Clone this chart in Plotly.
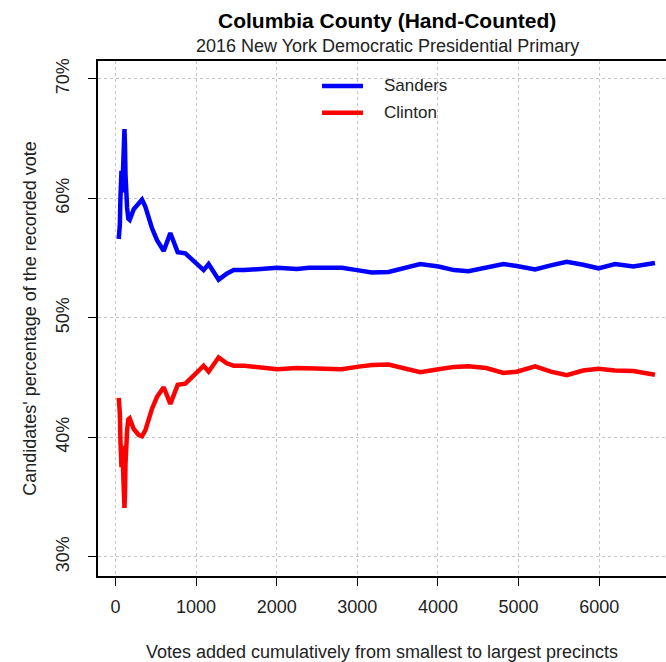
import plotly.graph_objects as go

votes = [41, 55, 62, 75, 85, 100, 112, 118, 125, 135, 145, 160, 177, 227, 290, 330, 372,
         454, 516, 599, 681, 772, 867, 960, 1094, 1156, 1280, 1380, 1466, 1600, 1756,
         2004, 2251, 2400, 2600, 2809, 2995, 3181, 3387, 3600, 3780, 4006, 4200, 4378,
         4600, 4812, 4977, 5204, 5400, 5597, 5800, 5989, 6196, 6423, 6691]

sanders = [56.6, 57.8, 60.0, 62.3, 60.5, 63.5, 65.8, 64.6, 62.0, 59.8, 59.2, 58.3, 58.2,
           59.1, 59.6, 59.9, 59.3, 57.5, 56.5, 55.6, 57.1, 55.5, 55.4, 54.8, 54.0, 54.5,
           53.2, 53.7, 54.0, 54.0, 54.05, 54.2, 54.1, 54.2, 54.2, 54.2, 54.0, 53.8, 53.85,
           54.2, 54.5, 54.3, 54.0, 53.9, 54.2, 54.5, 54.35, 54.05, 54.4, 54.7, 54.45,
           54.15, 54.5, 54.3, 54.6]

clinton = [43.3, 42.0, 39.8, 37.5, 39.3, 36.3, 34.1, 35.2, 37.8, 40.0, 40.6, 41.5, 41.6,
           40.7, 40.2, 40.1, 40.6, 42.4, 43.4, 44.2, 42.8, 44.4, 44.5, 45.1, 46.0, 45.5,
           46.7, 46.2, 46.0, 46.0, 45.9, 45.7, 45.8, 45.75, 45.7, 45.7, 45.9, 46.05, 46.1,
           45.75, 45.45, 45.7, 45.9, 45.95, 45.8, 45.4, 45.5, 45.95, 45.5, 45.2, 45.6,
           45.75, 45.6, 45.55, 45.25]

series_names = ["Sanders", "Clinton"]
series_colors = ["#0000ff", "#ff0000"]

x_ticks = [0, 1000, 2000, 3000, 4000, 5000, 6000]
y_ticks = [30, 40, 50, 60, 70]
y_tick_labels = ["30%", "40%", "50%", "60%", "70%"]

FONT = "Liberation Sans, Arial, sans-serif"
TXT = "#222222"

fig = go.Figure()
for name, vals, col in zip(series_names, [sanders, clinton], series_colors):
    fig.add_trace(go.Scatter(x=votes, y=vals, mode="lines", name=name, showlegend=False,
                             line=dict(color=col, width=4.5)))

fig.update_layout(
    width=666, height=662,
    margin=dict(l=98, r=0, t=61, b=86),
    paper_bgcolor="white", plot_bgcolor="white",
    font=dict(family=FONT, color=TXT, size=18),
    xaxis=dict(range=[-216, 6828], tickvals=x_ticks, ticks="outside", ticklen=8,
               tickcolor="black", showline=True, linecolor="black", linewidth=1.5,
               mirror=True, showgrid=True, gridcolor="#c4c4c4", griddash="dot",
               gridwidth=1, zeroline=False, tickfont=dict(size=18),
               ticklabelstandoff=6, automargin=False,
               title=dict(text="Votes added cumulatively from smallest to largest precincts",
                          font=dict(size=18), standoff=29)),
    yaxis=dict(range=[28.4, 71.5], tickvals=y_ticks, ticktext=y_tick_labels,
               ticks="outside", ticklen=8, tickcolor="black", tickangle=-90,
               showline=True, linecolor="black", linewidth=1.5, mirror=False,
               showgrid=True, gridcolor="#c4c4c4", griddash="dot", gridwidth=1,
               zeroline=False, tickfont=dict(size=18), ticklabelstandoff=12,
               automargin=False,
               title=dict(text="Candidates' percentage of the recorded vote",
                          font=dict(size=18), standoff=12)),
)

# Legend (drawn like R's legend(): line segment then label)
legend_y = [0.9515, 0.8996]
for name, col, ly in zip(series_names, series_colors, legend_y):
    fig.add_shape(type="line", xref="paper", yref="paper", x0=0.3944, x1=0.4665,
                  y0=ly, y1=ly, line=dict(color=col, width=4.5))
    fig.add_annotation(text=name, xref="paper", yref="paper", x=0.5, y=ly,
                       xanchor="left", yanchor="middle", showarrow=False,
                       font=dict(size=17, color=TXT))

fig.add_annotation(text="<b>Columbia County (Hand-Counted)</b>", xref="paper", yref="paper",
                   x=0.509, y=1, yshift=41, showarrow=False,
                   font=dict(size=21, color="black"), xanchor="center", yanchor="middle")
fig.add_annotation(text="2016 New York Democratic Presidential Primary", xref="paper",
                   yref="paper", x=0.509, y=1, yshift=15, showarrow=False,
                   font=dict(size=18, color=TXT), xanchor="center", yanchor="middle")

fig.write_html("out.html", config={"displayModeBar": False},
               post_script="document.body.style.margin='0';document.body.style.overflow='hidden';")
